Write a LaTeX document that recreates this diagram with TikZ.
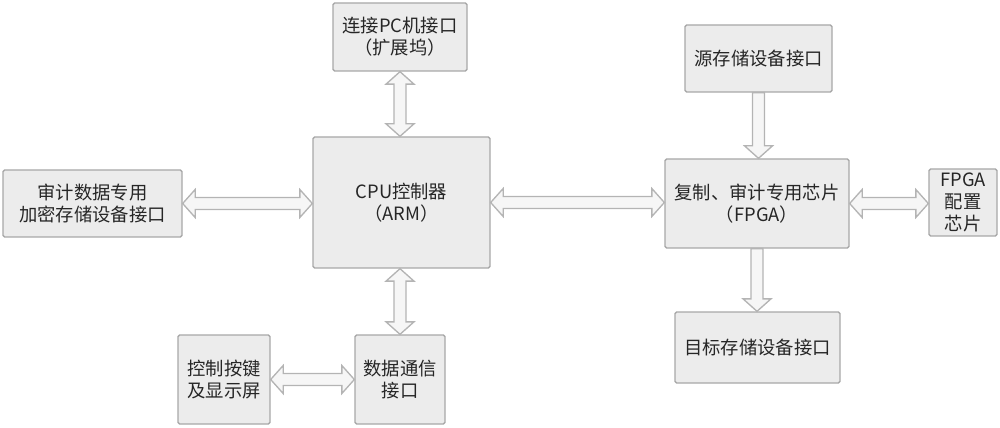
\documentclass[tikz,border=0pt]{standalone}
\usepackage{fontspec}
\newfontfamily\cjk{Noto Sans CJK SC}
\usetikzlibrary{calc}
\definecolor{boxfill}{RGB}{236,236,236}
\definecolor{boxline}{RGB}{168,168,168}
\definecolor{arrowline}{RGB}{180,180,180}
\definecolor{arrowfill}{RGB}{246,246,246}
\begin{document}
\begin{tikzpicture}[x=0.6pt,y=-0.6pt,
  box/.style={draw=boxline, fill=boxfill, line width=0.8pt, rounded corners=1pt,
    align=center, inner sep=0pt, text=black!85,
    font=\cjk\fontsize{11pt}{13pt}\selectfont},
  % hollow block arrow with a head at both ends
  dblarrow/.style={draw=arrowline, fill=arrowfill, line width=0.8pt, line join=miter,
    to path={
      let \p1=(\tikztostart), \p2=(\tikztotarget),
          \p3=($(\p1)!7.5pt!(\p2)$), \p4=($(\p2)!7.5pt!(\p1)$) in
      (\p1) -- ($(\p3)!8.4pt!90:(\p2)$) -- ($(\p3)!3.6pt!90:(\p2)$)
      -- ($(\p4)!3.6pt!-90:(\p1)$) -- ($(\p4)!8.4pt!-90:(\p1)$) -- (\p2)
      -- ($(\p4)!8.4pt!90:(\p1)$) -- ($(\p4)!3.6pt!90:(\p1)$)
      -- ($(\p3)!3.6pt!-90:(\p2)$) -- ($(\p3)!8.4pt!-90:(\p2)$) -- cycle}},
  % hollow block arrow with a single head at the target
  sglarrow/.style={draw=arrowline, fill=arrowfill, line width=0.8pt, line join=miter,
    to path={
      let \p1=(\tikztostart), \p2=(\tikztotarget),
          \p4=($(\p2)!7.5pt!(\p1)$) in
      ($(\p1)!3.6pt!90:(\p2)$) -- ($(\p4)!3.6pt!-90:(\p1)$)
      -- ($(\p4)!8.4pt!-90:(\p1)$) -- (\p2) -- ($(\p4)!8.4pt!90:(\p1)$)
      -- ($(\p4)!3.6pt!90:(\p1)$) -- ($(\p1)!3.6pt!-90:(\p2)$) -- cycle}}
]
\useasboundingbox (0,0) rectangle (1000,428);

% blocks
\node[box, minimum width=80.4pt, minimum height=40.8pt] (pc) at (400,37) {连接PC机接口\\（扩展坞）};
\node[box, minimum width=106.2pt, minimum height=78.6pt] (cpu) at (401.5,202.5) {CPU控制器\\（ARM）};
\node[box, minimum width=107.4pt, minimum height=40.2pt] (audit) at (92.5,203.5) {审计数据专用\\加密存储设备接口};
\node[box, minimum width=110.4pt, minimum height=53.4pt] (fpga) at (757,203.5) {复制、审计专用芯片\\（FPGA）};
\node[box, minimum width=40.8pt, minimum height=40.2pt] (cfg) at (963,202.5) {FPGA\\配置\\芯片};
\node[box, minimum width=88.2pt, minimum height=40.2pt] (src) at (758.5,58.5) {源存储设备接口};
\node[box, minimum width=99pt, minimum height=42.6pt] (dst) at (757.5,347.5) {目标存储设备接口};
\node[box, minimum width=55.2pt, minimum height=53.4pt] (key) at (224,379.5) {控制按键\\及显示屏};
\node[box, minimum width=54pt, minimum height=53.4pt] (data) at (400,379.5) {数据通信\\接口};

% connectors
\draw[dblarrow] (pc.south) to (pc.south |- cpu.north);
\draw[dblarrow] (audit.east) to (audit.east -| cpu.west);
\draw[dblarrow] (cpu.east) to (cpu.east -| fpga.west);
\draw[dblarrow] (fpga.east) to (fpga.east -| cfg.west);
\draw[sglarrow] (src.south) to (src.south |- fpga.north);
\draw[sglarrow] (fpga.south) to (fpga.south |- dst.north);
\draw[dblarrow] (pc.south |- cpu.south) to (data.north);
\draw[dblarrow] (key.east) to (data.west);
\end{tikzpicture}
\end{document}
